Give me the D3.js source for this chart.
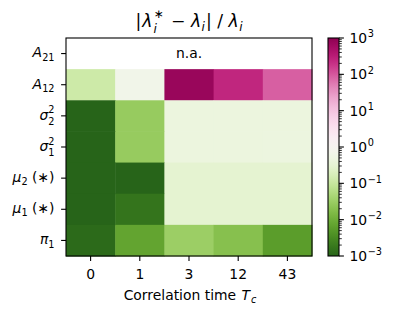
<!DOCTYPE html>
<html>
<head>
<meta charset="utf-8">
<script src="https://cdn.jsdelivr.net/npm/d3@7"></script>
<style>
  body { margin: 0; background: #fff; }
  svg { font-family: "DejaVu Sans", sans-serif; }
</style>
</head>
<body>
<div id="chart"></div>
<script>
// correlation times (columns)
const corrTimes = ["0", "1", "3", "12", "43"];
// parameters, top to bottom
const params = ["A21", "A12", "s2", "s1", "mu2", "mu1", "pi1"];
// relative errors |lambda* - lambda| / lambda, one array per parameter (null = n.a.)
const errA21 = [null, null, null, null, null];
const errA12 = [0.12, 0.67, 760, 250, 88];
const errSigma2 = [0.001, 0.028, 0.44, 0.44, 0.44];
const errSigma1 = [0.001, 0.028, 0.44, 0.44, 0.45];
const errMu2 = [0.001, 0.001, 0.3, 0.3, 0.3];
const errMu1 = [0.001, 0.0016, 0.3, 0.3, 0.3];
const errPi1 = [0.0012, 0.0073, 0.032, 0.019, 0.0057];
const cbarTicks = [1e-3, 1e-2, 1e-1, 1e0, 1e1, 1e2, 1e3];

const rows = [errA21, errA12, errSigma2, errSigma1, errMu2, errMu1, errPi1];

// how each parameter label is typeset
const labelParts = {
    A21: [{t: "A", it: true}, {t: "21", sub: true}],
    A12: [{t: "A", it: true}, {t: "12", sub: true}],
    s2: [{t: "σ", it: true}, {t: "2", sup: true, hi: true}, {t: "2", sub: true, stack: true}],
    s1: [{t: "σ", it: true}, {t: "2", sup: true, hi: true}, {t: "1", sub: true, stack: true}],
    mu2: [{t: "μ", it: true}, {t: "2", sub: true}, {t: " (∗)"}],
    mu1: [{t: "μ", it: true}, {t: "1", sub: true}, {t: " (∗)"}],
    pi1: [{t: "π", it: true}, {t: "1", sub: true}]
};

const W = 399, H = 316;
const fs = 13.9;
const m = {left: 66, right: 312, top: 38, bottom: 256};

const svg = d3.select("#chart").append("svg")
    .attr("width", W).attr("height", H);

const x = d3.scaleBand().domain(corrTimes).range([m.left, m.right]);
const y = d3.scaleBand().domain(params).range([m.top, m.bottom]);
const cScale = d3.scaleLog().domain([1e-3, 1e3]).range([0, 1]).clamp(true);
const color = v => d3.interpolatePiYG(1 - cScale(v));

// a bit of mathtext as one <text> with tspans
// (stacked scripts are pushed further apart, like mathtext does)
function mathText(parent, parts, size, anchor) {
    const t = parent.append("text")
        .attr("text-anchor", anchor || "start")
        .attr("fill", "#000")
        .style("white-space", "pre");
    let base = 0, prevW = 0, pendingDx = 0;
    parts.forEach(p => {
        const f = (p.sub || p.sup) ? size * 0.7 : size;
        let off = 0;
        if (p.sub) off = p.stack ? size * 0.36 : size * 0.24;
        if (p.sup) off = p.hi ? -size * 0.5 : -size * 0.42;
        let dx = (p.gap || 0) + pendingDx;
        pendingDx = 0;
        if (p.stack) dx -= prevW;
        const s = t.append("tspan")
            .attr("font-size", f)
            .attr("font-style", p.it ? "italic" : "normal")
            .attr("dy", off - base)
            .text(p.t);
        if (dx) s.attr("dx", dx);
        base = off;
        const w = s.node().getComputedTextLength();
        if (p.stack && prevW > w) pendingDx = prevW - w;
        prevW = w;
    });
    return t;
}

// cells
const cells = [];
rows.forEach((r, i) => r.forEach((v, j) => {
    if (v !== null) cells.push({p: params[i], c: corrTimes[j], v: v});
}));

svg.append("g").selectAll("rect")
    .data(cells)
    .enter()
    .append("rect")
    .attr("x", d => x(d.c))
    .attr("y", d => y(d.p))
    .attr("width", x.bandwidth() + 0.5)
    .attr("height", y.bandwidth() + 0.5)
    .attr("fill", d => color(d.v));

// n.a. row
svg.append("text")
    .attr("x", (m.left + m.right) / 2)
    .attr("y", y("A21") + y.bandwidth() / 2 + 4)
    .attr("text-anchor", "middle")
    .attr("font-size", fs)
    .text("n.a.");

// frame
svg.append("rect")
    .attr("x", m.left).attr("y", m.top)
    .attr("width", m.right - m.left).attr("height", m.bottom - m.top)
    .attr("fill", "none").attr("stroke", "#000").attr("stroke-width", 1.1);

// x axis
const xAxis = svg.append("g");
corrTimes.forEach(c => {
    const cx = x(c) + x.bandwidth() / 2;
    xAxis.append("line")
        .attr("x1", cx).attr("x2", cx)
        .attr("y1", m.bottom).attr("y2", m.bottom + 4.9)
        .attr("stroke", "#000").attr("stroke-width", 1.1);
    xAxis.append("text")
        .attr("x", cx).attr("y", 279)
        .attr("text-anchor", "middle")
        .attr("font-size", fs)
        .text(c);
});

// x label
mathText(svg, [{t: "Correlation time "}, {t: "T", it: true, gap: 1}, {t: "c", it: true, sub: true, gap: 1}], fs, "middle")
    .attr("transform", `translate(${(m.left + m.right) / 2 + 1},300)`);

// y axis
params.forEach(p => {
    const cy = y(p) + y.bandwidth() / 2;
    svg.append("line")
        .attr("x1", m.left - 4.9).attr("x2", m.left)
        .attr("y1", cy).attr("y2", cy)
        .attr("stroke", "#000").attr("stroke-width", 1.1);
    const lab = mathText(svg, labelParts[p], fs, "end");
    const bb = lab.node().getBBox();
    lab.attr("transform", `translate(54.5,${cy - (bb.y + bb.height / 2)})`);
});

// title
mathText(svg, [
    {t: "|"}, {t: "λ", it: true, gap: 1}, {t: "∗", sup: true, hi: true, gap: 1}, {t: "i", it: true, sub: true, stack: true},
    {t: " − ", gap: 2}, {t: "λ", it: true}, {t: "i", it: true, sub: true, gap: 0.5},
    {t: "| / ", gap: 1}, {t: "λ", it: true}, {t: "i", it: true, sub: true, gap: 0.5}
], 17.2, "middle")
    .attr("transform", `translate(${(m.left + m.right) / 2},27)`);

// colorbar
const cb = {x: 328, w: 11, top: 38, bottom: 256};
const cbY = d3.scaleLog().domain([1e-3, 1e3]).range([cb.bottom, cb.top]);
const grad = svg.append("defs").append("linearGradient")
    .attr("id", "cbgrad")
    .attr("x1", 0).attr("y1", 0).attr("x2", 0).attr("y2", 1);
grad.selectAll("stop")
    .data(d3.range(0, 101))
    .enter()
    .append("stop")
    .attr("offset", d => d + "%")
    .attr("stop-color", d => d3.interpolatePiYG(d / 100));
svg.append("rect")
    .attr("x", cb.x).attr("y", cb.top)
    .attr("width", cb.w).attr("height", cb.bottom - cb.top)
    .attr("fill", "url(#cbgrad)")
    .attr("stroke", "#000").attr("stroke-width", 1.1);

// minor ticks
const minors = [];
for (let e = -3; e < 3; e++) {
    for (let k = 2; k <= 9; k++) minors.push(k * Math.pow(10, e));
}
svg.append("g").selectAll("line")
    .data(minors)
    .enter()
    .append("line")
    .attr("x1", cb.x + cb.w).attr("x2", cb.x + cb.w + 2.8)
    .attr("y1", d => cbY(d)).attr("y2", d => cbY(d))
    .attr("stroke", "#000").attr("stroke-width", 0.8);

cbarTicks.forEach(v => {
    const ty = cbY(v);
    svg.append("line")
        .attr("x1", cb.x + cb.w).attr("x2", cb.x + cb.w + 4.9)
        .attr("y1", ty).attr("y2", ty)
        .attr("stroke", "#000").attr("stroke-width", 1.1);
    const e = Math.round(Math.log10(v));
    mathText(svg, [{t: "10"}, {t: (e < 0 ? "−" : "") + Math.abs(e), sup: true, gap: 0.5}], fs)
        .attr("transform", `translate(${cb.x + cb.w + 10.5},${ty + 5})`);
});
</script>
</body>
</html>
